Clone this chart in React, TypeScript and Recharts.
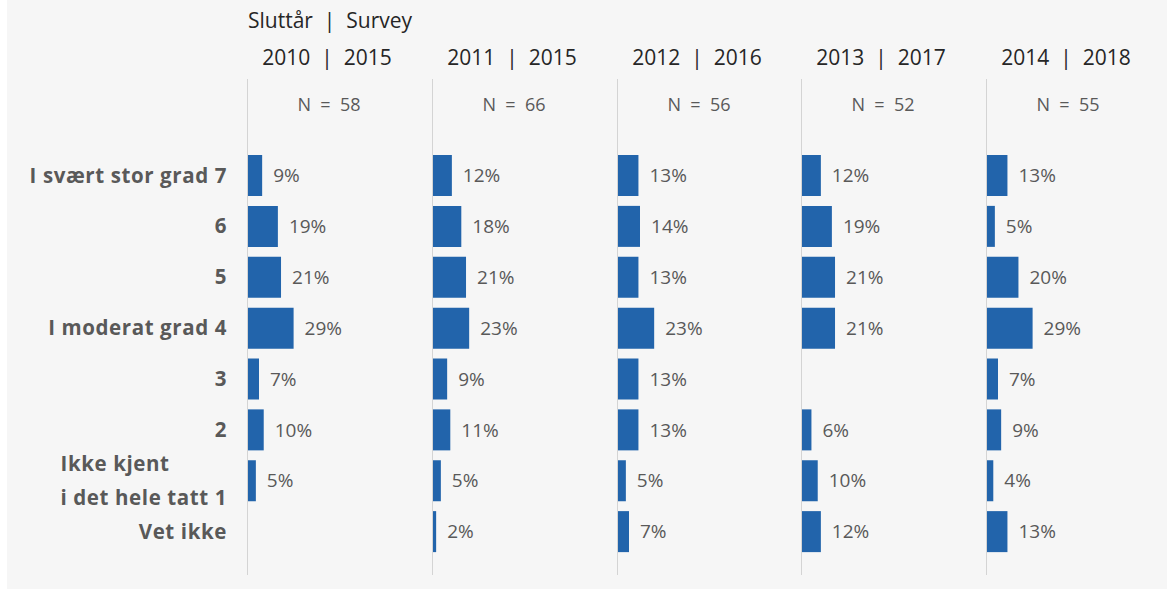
import { BarChart, Bar, XAxis, YAxis, LabelList } from "recharts";

const categories = [
  "I svært stor grad 7",
  "6",
  "5",
  "I moderat grad 4",
  "3",
  "2",
  "Ikke kjent\ni det hele tatt 1",
  "Vet ikke",
];

const panelTitles = ["2010 | 2015", "2011 | 2015", "2012 | 2016", "2013 | 2017", "2014 | 2018"];
const panelN = ["N = 58", "N = 66", "N = 56", "N = 52", "N = 55"];

const v2010 = [9, 19, 21, 29, 7, 10, 5, null];
const v2011 = [12, 18, 21, 23, 9, 11, 5, 2];
const v2012 = [13, 14, 13, 23, 13, 13, 5, 7];
const v2013 = [12, 19, 21, 21, null, 6, 10, 12];
const v2014 = [13, 5, 20, 29, 7, 9, 4, 13];

const panels = [v2010, v2011, v2012, v2013, v2014];

const FONT = "'Open Sans', Lato, sans-serif";
const BLUE = "#2264ab";
const GREY_TXT = "#595959";
const AXIS_X = [247, 432, 617, 801, 986];
const PLOT_W = 184;
const MAX = 117;
const CHART_TOP = 150;
const CHART_H = 407;
const CAT_SIZE = 20.5;
const CAT_SPACING = 0.6;

let ctx: CanvasRenderingContext2D | null = null;
const measure = (t: string, font: string) => {
  if (!ctx) ctx = document.createElement("canvas").getContext("2d");
  if (!ctx) return t.length * 10;
  ctx.font = font;
  return ctx.measureText(t).width + t.length * CAT_SPACING;
};

const CatTick = ({ x, y, payload }: any) => {
  const lines = String(payload.value).split("\n");
  const style = { fontFamily: FONT, fontSize: CAT_SIZE, fontWeight: 700, fill: GREY_TXT, letterSpacing: CAT_SPACING };
  if (lines.length === 1) {
    return (
      <text x={x} y={y} dy="0.35em" textAnchor="end" {...style}>{lines[0]}</text>
    );
  }
  const w = Math.max(...lines.map((l) => measure(l, `700 ${CAT_SIZE}px ${FONT}`)));
  return (
    <text {...style} textAnchor="start">
      {lines.map((l, i) => (
        <tspan key={i} x={x - w} y={y + (i - (lines.length - 1) / 2) * 34} dy="0.35em">{l}</tspan>
      ))}
    </text>
  );
};

function Panel({ values, idx }: { values: (number | null)[]; idx: number }) {
  const data = categories.map((c, i) => ({ cat: c, v: values[i] }));
  const first = idx === 0;
  const yw = first ? AXIS_X[0] + 1 - 7 : 0;
  const left = first ? 7 : AXIS_X[idx] + 1;
  return (
    <div style={{ position: "absolute", left, top: CHART_TOP }}>
      <BarChart
        layout="vertical"
        width={yw + PLOT_W}
        height={CHART_H}
        data={data}
        margin={{ top: 0, right: 0, bottom: 0, left: 0 }}
      >
        <XAxis type="number" domain={[0, MAX]} hide />
        <YAxis
          type="category"
          dataKey="cat"
          width={yw}
          hide={!first}
          axisLine={false}
          tickLine={false}
          tickSize={6}
          tickMargin={15}
          interval={0}
          tick={<CatTick />}
        />
        <Bar dataKey="v" fill={BLUE} barSize={41} isAnimationActive={false}>
          <LabelList
            dataKey="v"
            position="right"
            offset={11}
            fill={GREY_TXT}
            fontSize={19}
            fontFamily={FONT}
            formatter={(v: any) => (v == null ? "" : `${v}%`)}
          />
        </Bar>
      </BarChart>
    </div>
  );
}

export default function App() {
  return (
    <div style={{ position: "absolute", left: 0, top: 0, width: 1172, height: 590, background: "#fff", fontFamily: FONT }}>
      <div style={{ position: "absolute", left: 7, top: 0, width: 1160, height: 589, background: "#f6f6f6" }} />
      <div style={{ position: "absolute", left: 248, top: 6, fontSize: 21, color: "#262626", whiteSpace: "pre", lineHeight: "28px" }}>
        {"Sluttår  |  Survey"}
      </div>
      {panelTitles.map((t, i) => (
        <div
          key={t}
          style={{ position: "absolute", left: AXIS_X[i] + 80 - 90, width: 180, top: 43, textAlign: "center", fontSize: 21, color: "#262626", whiteSpace: "pre", lineHeight: "28px" }}
        >
          {t.replace(" | ", "  |  ")}
        </div>
      ))}
      {panelN.map((t, i) => (
        <div
          key={t}
          style={{ position: "absolute", left: AXIS_X[i] + 82 - 90, width: 180, top: 91, textAlign: "center", fontSize: 18, color: GREY_TXT, whiteSpace: "pre", lineHeight: "26px" }}
        >
          {t.replace(/ /g, "  ")}
        </div>
      ))}
      {AXIS_X.map((x) => (
        <div key={x} style={{ position: "absolute", left: x, top: 79, width: 1, height: 496, background: "#d4d4d4" }} />
      ))}
      {panels.map((p, i) => (
        <Panel key={i} values={p} idx={i} />
      ))}
    </div>
  );
}
